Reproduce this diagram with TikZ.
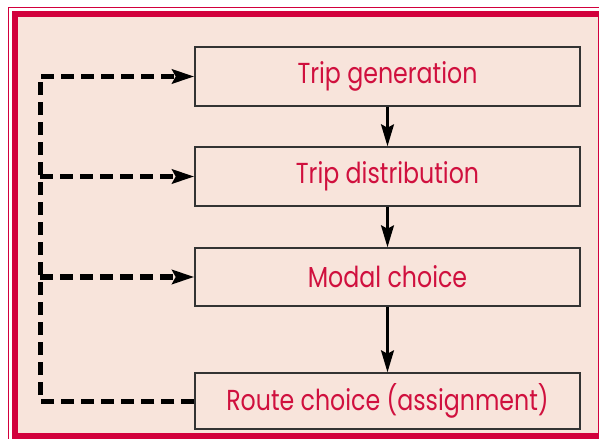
\documentclass[tikz,border=0pt]{standalone}
\usepackage{fontspec}
\setmainfont{Poppins}[FakeStretch=0.82]
\usetikzlibrary{arrows.meta}
\definecolor{framered}{HTML}{D2003C}
\definecolor{bgpink}{HTML}{F8E4DB}
\definecolor{txtred}{HTML}{D0103E}
\definecolor{boxgray}{HTML}{333333}
\tikzset{
  stagebox/.style={draw=boxgray, line width=1.5bp, minimum width=385bp, inner sep=0pt,
    text=txtred, font=\fontsize{29}{32}\selectfont},
  flowarrow/.style={line width=2.2bp, -{Stealth[length=22bp,width=13bp,inset=3.5bp]}},
  feedback/.style={line width=5bp, dash pattern=on 13bp off 7bp, line join=miter},
  feedarrow/.style={feedback, -{Stealth[length=22bp,width=14bp,inset=3.5bp]}}
}
\begin{document}
\begin{tikzpicture}[x=1bp,y=-1bp]
\useasboundingbox (0,0) rectangle (599,439);
\fill[white] (0,0) rectangle (599,439);
\draw[framered, line width=1.2bp] (8.3,7.3) rectangle (606,446);
\draw[framered, fill=bgpink, line width=6bp] (15,14) rectangle (600.5,436);

\node[stagebox, minimum height=59bp] (b1) at (387.5,76.5) {Trip generation};
\node[stagebox, minimum height=59bp] (b2) at (387.5,176.5) {Trip distribution};
\node[stagebox, minimum height=58bp] (b3) at (387.5,277) {Modal choice};
\node[stagebox, minimum height=56bp] (b4) at (387.5,401) {Route choice (assignment)};

\draw[flowarrow] (b1) -- (b2);
\draw[flowarrow] (b2) -- (b3);
\draw[flowarrow] (b3) -- (b4);

\coordinate (c1) at (40,76.5);
\coordinate (c2) at (40,176.5);
\coordinate (c3) at (40,277);
\draw[feedarrow] (b4.west) -- (b4.west -| c1) -- (c1) -- (b1.west);
\draw[feedarrow] (c2) -- (b2.west);
\draw[feedarrow] (c3) -- (b3.west);
\end{tikzpicture}
\end{document}
